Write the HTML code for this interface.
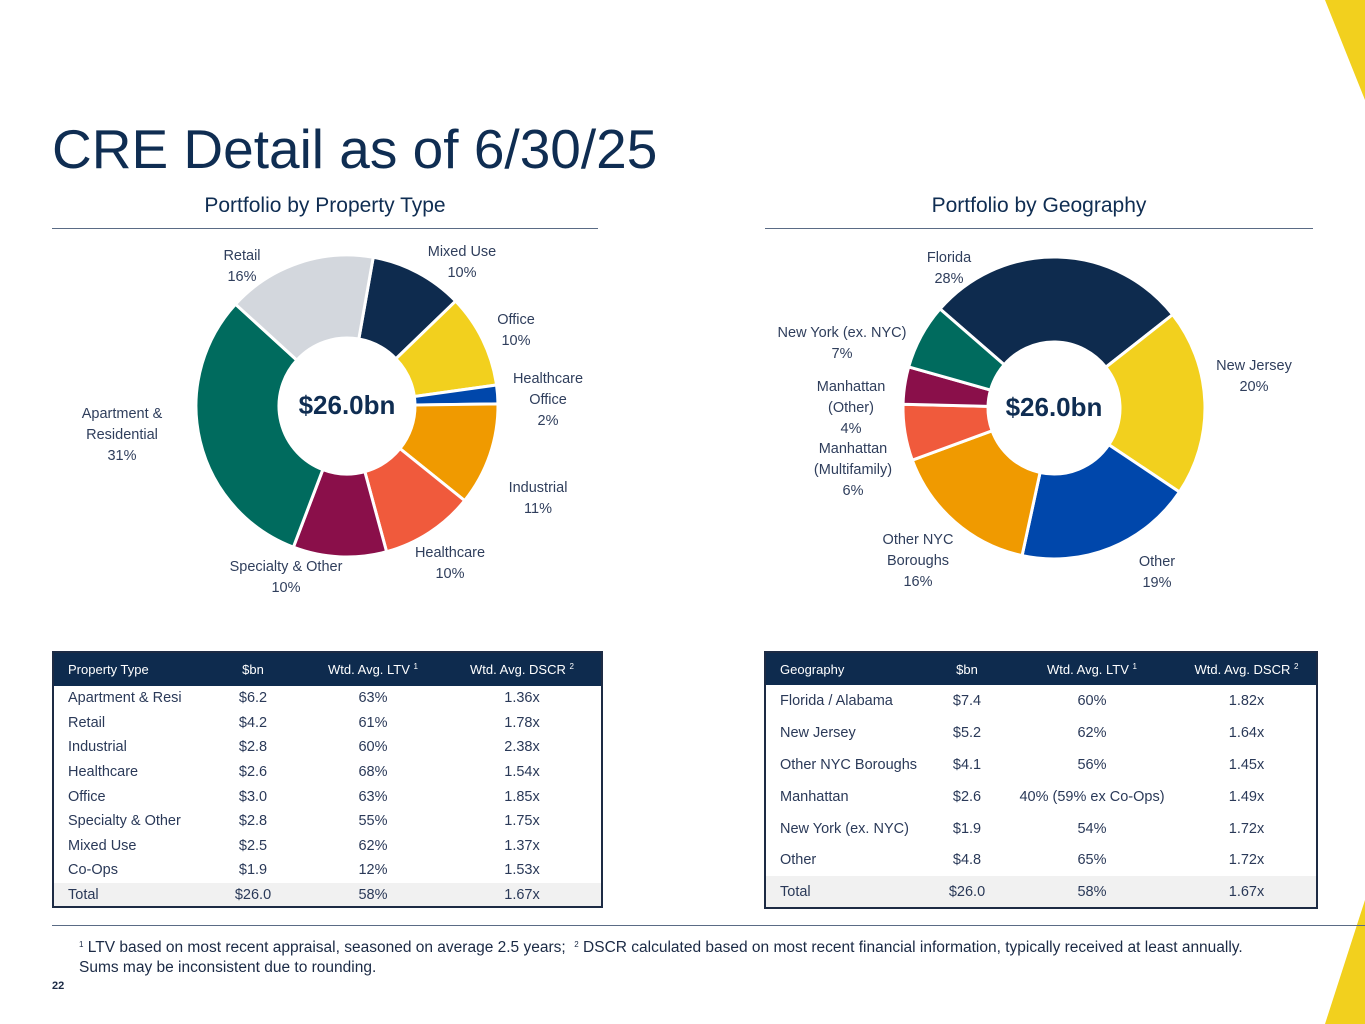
<!DOCTYPE html>
<html><head><meta charset="utf-8"><style>
*{margin:0;padding:0;box-sizing:border-box}
body{width:1365px;height:1024px;background:#fff;position:relative;overflow:hidden;font-family:"Liberation Sans",sans-serif;color:#1b2a45}
.abs{position:absolute}
.lbl{position:absolute;font-size:14.5px;line-height:21px;color:#2f3e5c;text-align:center;white-space:nowrap;transform:translateX(-50%)}
table{position:absolute;border-collapse:collapse;border:2px solid #1d2b44;font-size:14.5px;color:#2a3958}
th{background:#0e2b4e;color:#fff;font-weight:normal;font-size:13px}
td,th{text-align:center;padding:0}
td.l,th.l{text-align:left;padding-left:14px}
tr.tot td{background:#f1f1f1}
sup{font-size:8px;vertical-align:5px}
</style></head><body>
<svg class="abs" style="left:0;top:0" width="1365" height="1024">
<polygon points="1325,0 1365,0 1365,100" fill="#f2d01e"/>
<polygon points="1325,1024 1365,900 1365,1024" fill="#f2d01e"/>
</svg>
<div class="abs" style="left:52px;top:116px;font-size:55px;color:#0f2d52;line-height:66px">CRE Detail as of 6/30/25</div>
<div class="abs" style="left:52px;width:546px;top:194px;text-align:center;font-size:21px;color:#0f2d52">Portfolio by Property Type</div>
<div class="abs" style="left:52px;width:546px;top:228px;height:1px;background:#5a6b85"></div>
<div class="abs" style="left:765px;width:548px;top:194px;text-align:center;font-size:21px;color:#0f2d52">Portfolio by Geography</div>
<div class="abs" style="left:765px;width:548px;top:228px;height:1px;background:#5a6b85"></div>

<svg id="d1" class="abs" style="left:0;top:0" width="700" height="640"></svg>
<svg id="d2" class="abs" style="left:700px;top:0" width="665" height="640"></svg>
<div class="abs" style="left:277px;width:140px;top:390px;text-align:center;font-size:26px;font-weight:bold;color:#0f2d52">$26.0bn</div>
<div class="abs" style="left:984px;width:140px;top:392px;text-align:center;font-size:26px;font-weight:bold;color:#0f2d52">$26.0bn</div>

<div class="lbl" style="left:242px;top:246px">Retail<br>16%</div>
<div class="lbl" style="left:462px;top:242px">Mixed Use<br>10%</div>
<div class="lbl" style="left:516px;top:310px">Office<br>10%</div>
<div class="lbl" style="left:548px;top:369px">Healthcare<br>Office<br>2%</div>
<div class="lbl" style="left:538px;top:478px">Industrial<br>11%</div>
<div class="lbl" style="left:450px;top:543px">Healthcare<br>10%</div>
<div class="lbl" style="left:286px;top:557px">Specialty &amp; Other<br>10%</div>
<div class="lbl" style="left:122px;top:404px">Apartment &amp;<br>Residential<br>31%</div>

<div class="lbl" style="left:949px;top:248px">Florida<br>28%</div>
<div class="lbl" style="left:1254px;top:356px">New Jersey<br>20%</div>
<div class="lbl" style="left:1157px;top:552px">Other<br>19%</div>
<div class="lbl" style="left:918px;top:530px">Other NYC<br>Boroughs<br>16%</div>
<div class="lbl" style="left:853px;top:439px">Manhattan<br>(Multifamily)<br>6%</div>
<div class="lbl" style="left:851px;top:377px">Manhattan<br>(Other)<br>4%</div>
<div class="lbl" style="left:842px;top:323px">New York (ex. NYC)<br>7%</div>

<table style="left:52px;top:651px;width:551px">
<colgroup><col style="width:150px"><col style="width:100px"><col style="width:140px"><col></colgroup>
<tr style="height:34px"><th class="l">Property Type</th><th>$bn</th><th>Wtd. Avg. LTV <sup>1</sup></th><th>Wtd. Avg. DSCR <sup>2</sup></th></tr>
<tr style="height:24.6px"><td class="l">Apartment &amp; Resi</td><td>$6.2</td><td>63%</td><td>1.36x</td></tr>
<tr style="height:24.6px"><td class="l">Retail</td><td>$4.2</td><td>61%</td><td>1.78x</td></tr>
<tr style="height:24.6px"><td class="l">Industrial</td><td>$2.8</td><td>60%</td><td>2.38x</td></tr>
<tr style="height:24.6px"><td class="l">Healthcare</td><td>$2.6</td><td>68%</td><td>1.54x</td></tr>
<tr style="height:24.6px"><td class="l">Office</td><td>$3.0</td><td>63%</td><td>1.85x</td></tr>
<tr style="height:24.6px"><td class="l">Specialty &amp; Other</td><td>$2.8</td><td>55%</td><td>1.75x</td></tr>
<tr style="height:24.6px"><td class="l">Mixed Use</td><td>$2.5</td><td>62%</td><td>1.37x</td></tr>
<tr style="height:24.6px"><td class="l">Co-Ops</td><td>$1.9</td><td>12%</td><td>1.53x</td></tr>
<tr class="tot" style="height:24.6px"><td class="l">Total</td><td>$26.0</td><td>58%</td><td>1.67x</td></tr>
</table>

<table style="left:764px;top:651px;width:554px">
<colgroup><col style="width:162px"><col style="width:80px"><col style="width:170px"><col></colgroup>
<tr style="height:33px"><th class="l">Geography</th><th>$bn</th><th>Wtd. Avg. LTV <sup>1</sup></th><th>Wtd. Avg. DSCR <sup>2</sup></th></tr>
<tr style="height:31.9px"><td class="l">Florida / Alabama</td><td>$7.4</td><td>60%</td><td>1.82x</td></tr>
<tr style="height:31.9px"><td class="l">New Jersey</td><td>$5.2</td><td>62%</td><td>1.64x</td></tr>
<tr style="height:31.9px"><td class="l">Other NYC Boroughs</td><td>$4.1</td><td>56%</td><td>1.45x</td></tr>
<tr style="height:31.9px"><td class="l">Manhattan</td><td>$2.6</td><td>40% (59% ex Co-Ops)</td><td>1.49x</td></tr>
<tr style="height:31.9px"><td class="l">New York (ex. NYC)</td><td>$1.9</td><td>54%</td><td>1.72x</td></tr>
<tr style="height:31.9px"><td class="l">Other</td><td>$4.8</td><td>65%</td><td>1.72x</td></tr>
<tr class="tot" style="height:31.9px"><td class="l">Total</td><td>$26.0</td><td>58%</td><td>1.67x</td></tr>
</table>

<div class="abs" style="left:52px;width:1313px;top:925px;height:1px;background:#5a6b85"></div>
<div class="abs" style="left:79px;top:935px;font-size:15.5px;line-height:20px;color:#1b2a45;white-space:nowrap"><sup>1</sup> LTV based on most recent appraisal, seasoned on average 2.5 years;&nbsp; <sup>2</sup> DSCR calculated based on most recent financial information, typically received at least annually.<br>Sums may be inconsistent due to rounding.</div>
<div class="abs" style="left:52px;top:980px;font-size:11px;font-weight:bold;color:#1b2a45">22</div>

<script>
const propCats=["Mixed Use","Office","Healthcare Office","Industrial","Healthcare","Specialty & Other","Apartment & Residential","Retail"];
const propVals=[10,10,2,11,10,10,31,16];
const geoCats=["Florida","New Jersey","Other","Other NYC Boroughs","Manhattan (Multifamily)","Manhattan (Other)","New York (ex. NYC)"];
const geoVals=[28,20,19,16,6,4,7];
const propColors=["#0e2b4e","#f2d01e","#0047ab","#f09a00","#f05a3c","#8a0f4a","#006b5e","#d3d7dd"];
const geoColors=["#0e2b4e","#f2d01e","#0047ab","#f09a00","#f05a3c","#8a0f4a","#006b5e"];
function donut(svg,cats,vals,colors,cx,cy,ro,ri,start){
  const ns="http://www.w3.org/2000/svg";
  const tot=vals.reduce((a,b)=>a+b,0);
  let a=start;
  const pt=(r,ang)=>{const t=(ang-90)*Math.PI/180;return [cx+r*Math.cos(t),cy+r*Math.sin(t)];};
  vals.forEach((v,i)=>{
    const sweep=v/tot*360,b=a+sweep,lg=sweep>180?1:0;
    const [x1,y1]=pt(ro,a),[x2,y2]=pt(ro,b),[x3,y3]=pt(ri,b),[x4,y4]=pt(ri,a);
    const p=document.createElementNS(ns,"path");
    p.setAttribute("d",`M${x1},${y1}A${ro},${ro} 0 ${lg} 1 ${x2},${y2}L${x3},${y3}A${ri},${ri} 0 ${lg} 0 ${x4},${y4}Z`);
    p.setAttribute("fill",colors[i]);p.setAttribute("stroke","#fff");p.setAttribute("stroke-width","3");
    
    
    svg.appendChild(p);a=b;
  });
}
donut(document.getElementById("d1"),propCats,propVals,propColors,347,406,151,68,10);
donut(document.getElementById("d2"),geoCats,geoVals,geoColors,354,408,151,66,-49);
</script>
</body></html>
